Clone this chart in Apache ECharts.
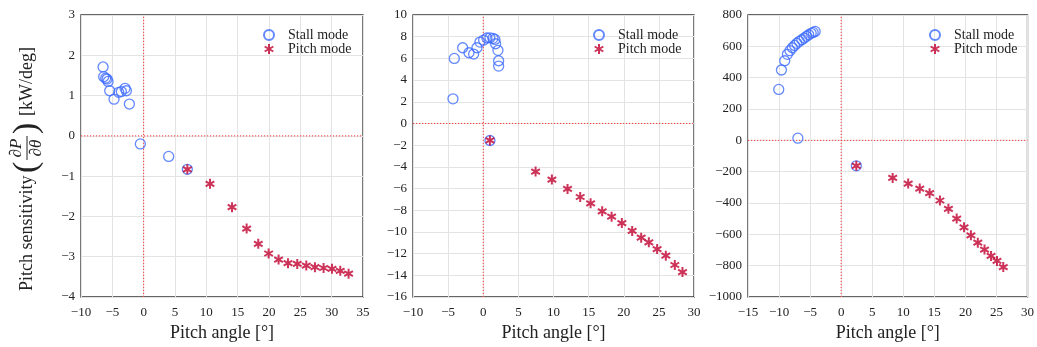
<!DOCTYPE html>
<html>
<head>
<meta charset="utf-8">
<script src="https://cdn.jsdelivr.net/npm/echarts@6/dist/echarts.min.js"></script>
<style>
  html, body { margin: 0; padding: 0; background: #ffffff; }
  #chart { width: 1037px; height: 347px; }
</style>
</head>
<body>
<div id="chart"></div>
<script>
// Pitch sensitivity vs pitch angle, three operating cases

// Case 1
const x1Stall = [-6.48, -6.38, -6.06, -5.84, -5.68, -5.42, -4.73, -3.98, -3.56, -2.97, -2.76, -2.28, -0.53, 3.99, 6.97];
const y1Stall = [1.71, 1.47, 1.43, 1.41, 1.35, 1.12, 0.91, 1.08, 1.10, 1.18, 1.12, 0.79, -0.20, -0.51, -0.83];
const x1Pitch = [6.97, 10.58, 14.1, 16.43, 18.29, 19.94, 21.53, 23.03, 24.51, 25.95, 27.33, 28.71, 30.05, 31.37, 32.7];
const y1Pitch = [-0.83, -1.19, -1.77, -2.30, -2.68, -2.92, -3.07, -3.16, -3.18, -3.22, -3.26, -3.28, -3.30, -3.35, -3.42];

// Case 2
const x2Stall = [-4.31, -4.12, -2.93, -2.03, -1.37, -0.9, -0.47, 0.05, 0.52, 0.95, 1.38, 1.66, 1.76, 2.09, 2.19, 2.19, 0.95];
const y2Stall = [2.27, 6.0, 6.98, 6.52, 6.40, 6.98, 7.5, 7.69, 7.88, 7.9, 7.85, 7.75, 7.35, 6.74, 5.78, 5.29, -1.57];
const x2Pitch = [0.95, 7.45, 9.77, 12.0, 13.8, 15.28, 16.93, 18.27, 19.73, 21.2, 22.48, 23.57, 24.75, 25.99, 27.27, 28.36];
const y2Pitch = [-1.57, -4.43, -5.17, -6.04, -6.78, -7.36, -8.10, -8.59, -9.18, -9.91, -10.53, -10.96, -11.58, -12.19, -13.05, -13.70];

// Case 3
const x3Stall = [-10.05, -9.62, -9.09, -8.66, -8.25, -7.86, -7.50, -7.13, -6.75, -6.33, -5.95, -5.58, -5.22, -4.83, -4.51, -4.19, -6.97, 2.44];
const y3Stall = [325, 449, 508, 549, 572, 591, 606, 619, 632, 642, 653, 664, 674, 683, 689, 695, 14, -163];
const x3Pitch = [2.44, 8.29, 10.79, 12.65, 14.24, 15.9, 17.27, 18.6, 19.78, 20.89, 22.0, 23.08, 24.13, 25.09, 26.1];
const y3Pitch = [-163, -240, -276, -308, -337, -384, -437, -499, -555, -606, -653, -697, -738, -770, -809];

// Axis ranges: [min, max, interval]
const xRanges = [[-10, 35, 5], [-10, 30, 5], [-15, 30, 5]];
const yRanges = [[-4, 3, 1], [-16, 10, 2], [-1000, 800, 200]];

const seriesNames = ['Stall mode', 'Pitch mode'];
const xTitle = 'Pitch angle [°]';

const FONT = '"Liberation Serif", "DejaVu Serif", serif';
const STALL_COLOR = '#3d6bff';
const PITCH_COLOR = '#c0002f';
const ZERO_COLOR = '#ff3535';
const ASTERISK = 'path://M10,0L10,20M1.34,5L18.66,15M1.34,15L18.66,5';

const grids = [
  { left: 81, top: 15, width: 282, height: 282 },
  { left: 413, top: 15, width: 281, height: 282 },
  { left: 748, top: 15, width: 282, height: 282 }
];
const legendLefts = [263, 593, 929];

const zip = (xs, ys) => xs.map((x, i) => [x, ys[i]]);
const minusFmt = v => String(v).replace('-', '\u2212');

const panels = [
  [x1Stall, y1Stall, x1Pitch, y1Pitch],
  [x2Stall, y2Stall, x2Pitch, y2Pitch],
  [x3Stall, y3Stall, x3Pitch, y3Pitch]
];

const option = {
  animation: false,
  backgroundColor: '#ffffff',
  grid: grids.map(g => Object.assign({
    show: true, borderColor: '#333333', borderWidth: 1.3, backgroundColor: 'transparent'
  }, g)),
  xAxis: xRanges.map((r, i) => ({
    type: 'value', gridIndex: i, min: r[0], max: r[1], interval: r[2],
    name: xTitle, nameLocation: 'middle', nameGap: 26,
    nameTextStyle: { fontFamily: FONT, fontSize: 18, color: '#222' },
    axisLine: { show: false }, axisTick: { show: false },
    axisLabel: { formatter: minusFmt, fontFamily: FONT, fontSize: 13, color: '#222', margin: 9 },
    splitLine: { show: true, lineStyle: { color: '#e3e3e3', width: 1 } }
  })),
  yAxis: yRanges.map((r, i) => ({
    type: 'value', gridIndex: i, min: r[0], max: r[1], interval: r[2],
    axisLine: { show: false }, axisTick: { show: false },
    axisLabel: { formatter: minusFmt, fontFamily: FONT, fontSize: 13, color: '#222', margin: 6 },
    splitLine: { show: true, lineStyle: { color: '#e3e3e3', width: 1 } }
  })),
  legend: legendLefts.map(l => ({
    data: seriesNames, orient: 'vertical', left: l, top: 28,
    itemWidth: 10, itemHeight: 10, itemGap: 0, padding: 0,
    selectedMode: false,
    textStyle: { fontFamily: FONT, fontSize: 14, color: '#222', padding: [0, 0, 0, 9] }
  })),
  series: [],
  graphic: []
};

panels.forEach((p, i) => {
  const xr = xRanges[i], yr = yRanges[i];
  // dotted zero reference lines
  [[[0, yr[0]], [0, yr[1]]], [[xr[0], 0], [xr[1], 0]]].forEach(d => {
    option.series.push({
      type: 'line', xAxisIndex: i, yAxisIndex: i, data: d,
      symbol: 'none', silent: true, z: 1,
      lineStyle: { color: ZERO_COLOR, type: [1.2, 1.8], width: 1 }
    });
  });
  option.series.push({
    name: seriesNames[0], type: 'scatter', xAxisIndex: i, yAxisIndex: i,
    data: zip(p[0], p[1]), symbol: 'circle', symbolSize: 10,
    itemStyle: { color: 'transparent', borderColor: STALL_COLOR, borderWidth: 1.3 },
    z: 3
  });
  option.series.push({
    name: seriesNames[1], type: 'scatter', xAxisIndex: i, yAxisIndex: i,
    data: zip(p[2], p[3]), symbol: ASTERISK, symbolKeepAspect: true, symbolSize: 10,
    itemStyle: { color: 'transparent', borderColor: PITCH_COLOR, borderWidth: 2 },
    z: 4
  });
});

// Rotated y-axis title: Pitch sensitivity (∂P/∂θ) [kW/deg]
option.graphic.push({
  type: 'group', x: 27, y: 291, rotation: Math.PI / 2,
  children: [
    { type: 'text', x: 0, y: 0, style: { text: 'Pitch sensitivity', font: '18px ' + FONT, fill: '#222', align: 'left', verticalAlign: 'middle' } },
    { type: 'text', x: 118, y: 0, style: { text: '(', font: '34px ' + FONT, fill: '#222', align: 'left', verticalAlign: 'middle' } },
    { type: 'text', x: 143, y: -10, style: { text: '\u2202P', font: 'italic 17px ' + FONT, fill: '#222', align: 'center', verticalAlign: 'middle' } },
    { type: 'line', shape: { x1: 131, y1: 0, x2: 155, y2: 0 }, style: { stroke: '#222', lineWidth: 1 } },
    { type: 'text', x: 143, y: 10, style: { text: '\u2202\u03b8', font: 'italic 17px ' + FONT, fill: '#222', align: 'center', verticalAlign: 'middle' } },
    { type: 'text', x: 157, y: 0, style: { text: ')', font: '34px ' + FONT, fill: '#222', align: 'left', verticalAlign: 'middle' } },
    { type: 'text', x: 175, y: 0, style: { text: '[kW/deg]', font: '18px ' + FONT, fill: '#222', align: 'left', verticalAlign: 'middle' } }
  ]
});

const chart = echarts.init(document.getElementById('chart'), null, { renderer: 'canvas' });
chart.setOption(option);
</script>
</body>
</html>
